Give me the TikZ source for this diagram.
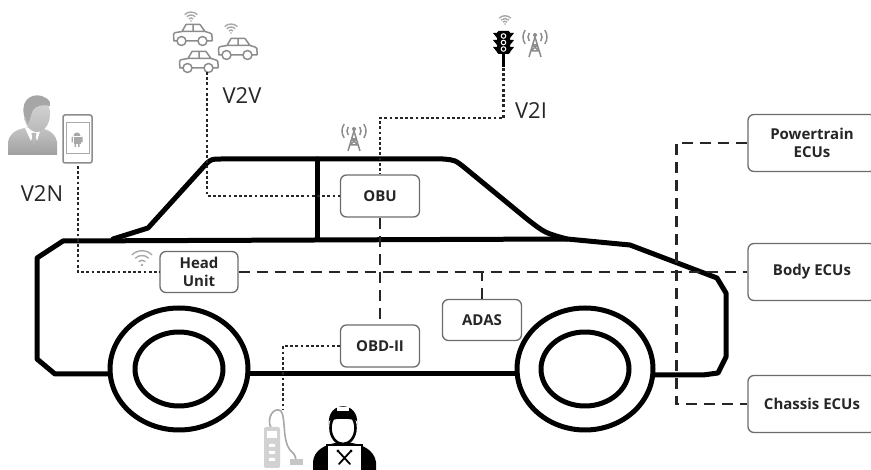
\documentclass[tikz,border=0pt]{standalone}
\usepackage{fontspec}
\setmainfont{Open Sans}
\usetikzlibrary{calc}
\definecolor{ink}{HTML}{262626}
\definecolor{boxline}{HTML}{6C6C6C}
\definecolor{icongray}{HTML}{8C8C8C}
\definecolor{lightgray}{HTML}{A8A8A8}

\tikzset{
  ecubox/.style={draw=boxline, line width=1.3pt, rounded corners=6pt, fill=white,
    text=ink, font=\bfseries\fontsize{15}{18}\selectfont, align=center, inner sep=0pt},
  carline/.style={line width=5pt, line join=round, line cap=round, draw=black},
  busline/.style={line width=2.8pt, dash pattern=on 11pt off 7pt, draw=ink},
  linkline/.style={line width=2.8pt, dash pattern=on 2.8pt off 2.4pt, draw=ink},
  vlabel/.style={font=\fontsize{22}{24}\selectfont, text=ink, inner sep=0pt},
  iconline/.style={draw=icongray, line width=1.5pt, line join=round, line cap=round},
  % wireless symbol, origin at the dot
  wifi/.pic={
    \fill[lightgray] (0,0) circle (1.5);
    \foreach \r in {5,10,15}
      \draw[lightgray, line width=1.4pt] (0,0) ++(225:\r) arc[start angle=225, end angle=315, radius=\r];
  },
  % radio mast with waves, origin at the centre
  mast/.pic={
    \fill[icongray] (0,-9) circle (2);
    \draw[icongray, line width=1.5pt, line join=round]
      (-6,13) -- (0,-7) -- (6,13)
      (-2.6,1) -- (2.6,1) (-4.2,7) -- (4.2,7)
      (-2.6,1) -- (4.2,7) (2.6,1) -- (-4.2,7);
    \foreach \r in {7,12}{
      \draw[icongray, line width=1.5pt] (0,-7) ++(145:\r) arc[start angle=145, end angle=215, radius=\r];
      \draw[icongray, line width=1.5pt] (0,-7) ++(-35:\r) arc[start angle=-35, end angle=35, radius=\r];
    }
  },
  % small outline car, origin at top-left
  caricon/.pic={
    \draw[iconline] (9,18) -- (2,18) -- (1.5,12) .. controls (2,10) .. (4,9.5) -- (10,8.5)
      -- (14,1.5) -- (28,1.5) -- (33,8.5) -- (38,10) .. controls (40,11) .. (40,14) -- (40,18) -- (31,18)
      (26,18) -- (14,18)
      (10,8.5) -- (33,8.5) (21,1.5) -- (21,8.5);
    \draw[iconline, fill=white] (9.5,18) circle (4.5) (30.5,18) circle (4.5);
  }
}

\begin{document}
\begin{tikzpicture}[x=1pt, y=-1pt]
\useasboundingbox (0,0) rectangle (871,470);
\fill[white] (0,0) rectangle (871,470);

% ---------- car body ----------
\draw[carline] (110,374) -- (55,374) -- (37,359) -- (37,258) -- (63,241) -- (567,239)
  -- (630,245) -- (717,278) -- (726,293) -- (726,357) -- (718,373) -- (703,375) -- (653,375);
\draw[carline] (248,374) -- (517,374);
\draw[carline] (113,239) -- (148,228) -- (207,163) .. controls (212,159) .. (222,159)
  -- (443,159) .. controls (455,160) .. (465,168) -- (527,219) .. controls (545,233) .. (567,239);
\draw[carline] (317,159) -- (317,239);
% wheels
\draw[carline] (179,369) ellipse [x radius=69, y radius=61];
\draw[carline] (179,369) ellipse [x radius=44, y radius=37];
\draw[carline] (585,369) ellipse [x radius=68, y radius=61];
\draw[carline] (585,369) ellipse [x radius=44, y radius=37];

% ---------- units ----------
\node[ecubox, minimum width=79pt, minimum height=42pt] (obu)  at (380,196) {OBU};
\node[ecubox, minimum width=78pt, minimum height=41pt] (hu)   at (199,272) {Head\\Unit};
\node[ecubox, minimum width=79pt, minimum height=42pt] (obd)  at (380,346) {OBD-II};
\node[ecubox, minimum width=79pt, minimum height=41pt] (adas) at (482,320) {ADAS};
\node[ecubox, minimum width=128pt, minimum height=57pt] (pt)      at (812,143) {Powertrain\\ECUs};
\node[ecubox, minimum width=128pt, minimum height=57pt] (bodyecu) at (812,272) {Body ECUs};
\node[ecubox, minimum width=128pt, minimum height=57pt] (chassis) at (812,404) {Chassis ECUs};

% ---------- in-vehicle bus ----------
\draw[busline] (hu.east) -- (bodyecu.west);
\draw[busline] (obu.south) -- (obd.north);
\draw[busline] (adas.north) -- (adas.north |- hu.east);
\draw[busline] (pt.west) -- ++(-71,0) |- (chassis.west);

% ---------- V2N: person and phone ----------
\shade[top color=gray!45, bottom color=gray!75]
  (8,155) -- (8,142) .. controls (10,131) and (20,128) .. (32,127)
  .. controls (45,128) and (55,131) .. (57,142) -- (57,155) -- cycle;
\fill[white] (25,128) -- (31,141) -- (34,132) -- (37,141) -- (41,128) -- cycle;
\fill[gray!55] (31.5,133) -- (36.5,133) -- (34,146) -- cycle;
\shade[top color=gray!30, bottom color=gray!55] (37,114) ellipse [x radius=13, y radius=18];
\fill[gray!70] (24,115) .. controls (20,98) and (35,91) .. (46,98)
  .. controls (50,101) .. (50,106) .. controls (42,104) and (36,106) .. (33,110)
  .. controls (31,114) and (30,120) .. (28,124) -- cycle;
\draw[draw=icongray, line width=1.5pt, rounded corners=2pt] (63,115) rectangle (92,163);
\draw[draw=lightgray, line width=1pt] (66,123) rectangle (89,154);
\begin{scope}[lightgray]
  \fill (73.5,136) arc[start angle=180, end angle=360, radius=3.5] -- cycle;
  \fill (73.5,137) rectangle (80.5,144);
  \fill (71.5,137) rectangle (72.8,142.5) (81.2,137) rectangle (82.5,142.5);
  \fill (74.5,144) rectangle (76,147) (78,144) rectangle (79.5,147);
\end{scope}
\coordinate (phone) at (78,166);
\node[vlabel] (v2n) at (42,194) {V2N};

% ---------- V2V: cars ----------
\pic at (172,23) {caricon};
\pic at (217,37) {caricon};
\pic at (178,50) {caricon};
\pic[scale=0.6] at (191,21) {wifi};
\pic[scale=0.6] at (231,33) {wifi};
\coordinate (cars) at (207,72);
\node[vlabel] (v2v) at (242,96) {V2V};

% ---------- V2I: traffic light and mast ----------
\pic[scale=0.55] at (505,24) {wifi};
\fill[black, rounded corners=1.5pt] (497,31) rectangle (510,54);
\fill[black] (497,33) -- (493,33) -- (497,38) -- cycle
             (497,40) -- (493,40) -- (497,45) -- cycle
             (497,47) -- (493,47) -- (497,52) -- cycle
             (510,33) -- (514,33) -- (510,38) -- cycle
             (510,40) -- (514,40) -- (510,45) -- cycle
             (510,47) -- (514,47) -- (510,52) -- cycle;
\draw[white, line width=1pt] (503.5,36) circle (2.3) (503.5,42.5) circle (2.3) (503.5,49) circle (2.3);
\fill[black] (502,54) rectangle (505,67);
\coordinate (light) at (503.5,68);
\pic at (535,44) {mast};
\node[vlabel] (v2i) at (531,111) {V2I};
\pic at (354,138) {mast};

% wifi at the head unit
\pic[scale=0.95] at (142,265) {wifi};

% ---------- diagnostics: scanner and mechanic ----------
\draw[draw=lightgray, line width=1.6pt]
  (271,428) .. controls (266,418) and (274,406) .. (281,411)
  .. controls (286,418) and (282,440) .. (290,450) .. controls (295,455) .. (296,460);
\fill[gray!35, rounded corners=2pt] (264,427) rectangle (280,468);
\fill[white] (267,431) rectangle (277,438);
\fill[white] (269,444) rectangle (275,447) (269,451) rectangle (275,454) (269,458) rectangle (275,461);
\fill[gray!45] (290,459) rectangle (303,465);
\coordinate (scanner) at (283,410);

\fill[black] (313,470) -- (313,462) .. controls (314,450) and (325,445) .. (335,443) -- (352,443)
  .. controls (363,445) and (374,450) .. (376,462) -- (376,470) -- cycle;
\draw[black, line width=2.6pt, fill=white] (343,428) ellipse [x radius=12.5, y radius=16];
\fill[black] (329,425) .. controls (326,400) and (360,400) .. (357,425)
  -- (357,421) .. controls (350,418) and (336,418) .. (329,421) -- cycle;
\fill[white] (337,407) rectangle (349,411);
\draw[black, line width=2.6pt, fill=white] (327,445) rectangle (362,472);
\draw[black, line width=1.8pt, line cap=round] (339,452) -- (350,464) (350,452) -- (339,464);
\fill[black] (338,451) circle (1.6) (351,451) circle (1.6);

% ---------- external links ----------
\draw[linkline] (phone) |- (hu.west);
\draw[linkline] (cars) |- (obu.west);
\draw[linkline] (light) -- ++(0,50) -| (obu.north);
\draw[linkline] (obd.west) -| (scanner);
\end{tikzpicture}
\end{document}
